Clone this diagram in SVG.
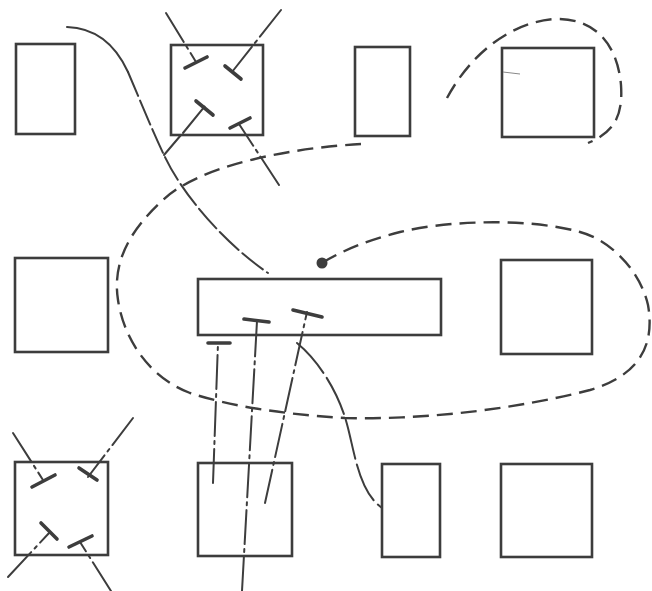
<svg xmlns="http://www.w3.org/2000/svg" width="652" height="591" viewBox="0 0 652 591">
<style>
.box{fill:none;stroke:#3d3d3d;stroke-width:2.6}
.ln{fill:none;stroke:#3d3d3d;stroke-width:2;stroke-linecap:round}
.dd{stroke-dasharray:34 5 3 5}
.dash{fill:none;stroke:#3d3d3d;stroke-width:2.4;stroke-dasharray:16 8}
.bar{fill:none;stroke:#3d3d3d;stroke-width:3.6;stroke-linecap:round}
.thin{fill:none;stroke:#888;stroke-width:1}
</style>
<rect width="652" height="591" fill="#fff"/>
<g id="n1"><rect class="box" x="16" y="44" width="59" height="90"/></g>
<g id="n2"><rect class="box" x="171" y="45" width="92" height="90"/></g>
<g id="n3"><rect class="box" x="355" y="47" width="55" height="89"/></g>
<g id="n4"><rect class="box" x="502" y="48" width="92" height="89"/><line class="thin" x1="503" y1="72" x2="520" y2="74"/></g>
<g id="n5"><rect class="box" x="15" y="258" width="93" height="94"/></g>
<g id="n6"><rect class="box" x="198" y="279" width="243" height="56"/></g>
<g id="n7"><rect class="box" x="501" y="260" width="91" height="94"/></g>
<g id="n8"><rect class="box" x="15" y="462" width="93" height="93"/></g>
<g id="n9"><rect class="box" x="198" y="463" width="94" height="93"/></g>
<g id="n10"><rect class="box" x="382" y="464" width="58" height="93"/></g>
<g id="n11"><rect class="box" x="501" y="464" width="91" height="93"/></g>
<g id="connectors">
<path class="ln" d="M67,27 C98,28 117,48 128,72"/>
<path class="ln" d="M128,72 C140,100 152,130 164,155 C180,190 220,240 268,273" stroke-dasharray="26 5"/>
<path class="ln" d="M164,155 L181,135"/>
<path class="dash" d="M447,98 C470,55 510,22 555,19 C600,18 618,50 621,85 C623,115 615,132 588,143"/>
<path class="dash" d="M361,144 C290,148 200,165 163,200 C130,230 112,262 118,300 C124,340 150,378 190,393 C230,406 280,414 345,418 C430,420 520,408 590,390 C640,375 655,345 648,305 C640,270 610,240 580,232 C530,218 450,220 400,232 C360,242 335,255 322,263" stroke-dasharray="20 9"/>
<circle cx="322" cy="263" r="5.5" fill="#3d3d3d"/>
<path class="ln" d="M297,343 C320,362 340,395 348,428 C356,460 360,492 382,508" stroke-dasharray="40 6"/>
<path class="ln dd" d="M166,13 L196,62"/><path class="bar" d="M185,68 L207,57"/>
<path class="ln dd" d="M281,10 L232,72"/><path class="bar" d="M225,66 L241,79"/>
<path class="ln dd" d="M183,133 L205,106"/><path class="bar" d="M196,101 L213,115"/>
<path class="ln dd" d="M279,185 L239,124"/><path class="bar" d="M230,128 L250,118"/>
<path class="ln dd" d="M213,483 L218,343"/><path class="bar" d="M208,343 L230,343"/>
<path class="ln dd" d="M242,591 L257,321"/><path class="bar" d="M244,319 L269,322"/>
<path class="ln dd" d="M265,503 L307,312"/><path class="bar" d="M293,310 L322,317"/>
<path class="ln dd" d="M13,433 L43,480"/><path class="bar" d="M32,487 L55,475"/>
<path class="ln dd" d="M133,418 L88,477"/><path class="bar" d="M79,468 L97,480"/>
<path class="ln dd" d="M8,577 L50,532"/><path class="bar" d="M41,523 L57,539"/>
<path class="ln dd" d="M111,591 L80,542"/><path class="bar" d="M69,547 L92,536"/>
</g>
</svg>
